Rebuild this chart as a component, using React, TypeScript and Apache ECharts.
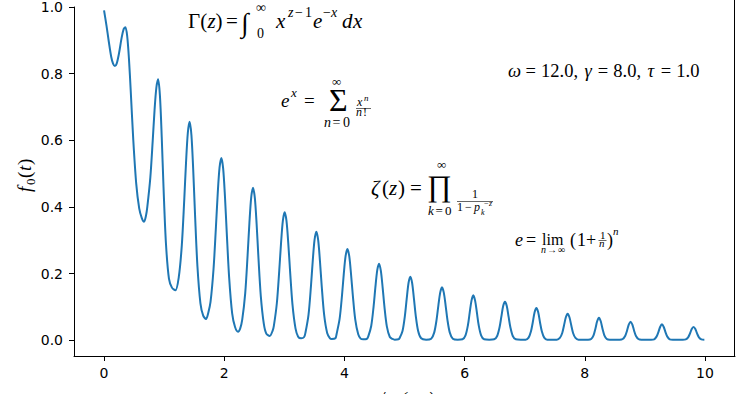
import React, { useEffect, useRef } from "react";
import * as echarts from "echarts";

// ---- data ----
const tValues: number[] = [
  0.0, 0.04, 0.08, 0.12, 0.15, 0.18, 0.21, 0.25, 0.29, 0.325, 0.355,
  0.385, 0.415, 0.445, 0.485, 0.535, 0.585, 0.63, 0.666, 0.7, 0.72, 0.77, 0.81, 0.84, 0.87, 0.9,
  0.93, 0.96, 0.99, 1.03, 1.08, 1.13, 1.187, 1.244, 1.294, 1.334, 1.364, 1.394, 1.424,
  1.454, 1.484, 1.514, 1.554, 1.604, 1.65, 1.697, 1.735, 1.772, 1.822, 1.862, 1.892, 1.922, 1.952,
  1.982, 2.012, 2.042, 2.082, 2.132, 2.18, 2.23, 2.265, 2.299, 2.349, 2.389, 2.419, 2.449, 2.479,
  2.509, 2.539, 2.569, 2.609, 2.659, 2.7, 2.757, 2.806, 2.826, 2.876, 2.916, 2.946, 2.976, 3.006,
  3.036, 3.066, 3.096, 3.136, 3.186, 3.23, 3.28, 3.33, 3.353, 3.403, 3.443, 3.473, 3.503, 3.533,
  3.563, 3.593, 3.623, 3.663, 3.713, 3.76, 3.79, 3.85, 3.87, 3.92, 3.96, 3.99, 4.02, 4.05,
  4.08, 4.11, 4.14, 4.18, 4.23, 4.27, 4.313, 4.37, 4.396, 4.446, 4.486, 4.516, 4.546, 4.576,
  4.606, 4.636, 4.666, 4.706, 4.756, 4.8, 4.837, 4.9, 4.917, 4.967, 5.007, 5.037, 5.067, 5.097,
  5.127, 5.157, 5.187, 5.227, 5.277, 5.36, 5.444, 5.494, 5.534, 5.564, 5.594, 5.624,
  5.654, 5.684, 5.714, 5.754, 5.804, 5.885, 5.965, 6.015, 6.055, 6.085, 6.115, 6.145,
  6.175, 6.205, 6.235, 6.275, 6.325, 6.41, 6.492, 6.542, 6.582, 6.612, 6.642, 6.672,
  6.702, 6.732, 6.762, 6.802, 6.852, 6.935, 7.015, 7.065, 7.105, 7.135, 7.165, 7.195,
  7.225, 7.255, 7.285, 7.325, 7.375, 7.455, 7.535, 7.585, 7.625, 7.655, 7.685, 7.715,
  7.745, 7.775, 7.805, 7.845, 7.895, 7.975, 8.056, 8.106, 8.146, 8.176, 8.206, 8.236,
  8.266, 8.296, 8.326, 8.366, 8.416, 8.5, 8.582, 8.632, 8.672, 8.702, 8.732, 8.762,
  8.792, 8.822, 8.852, 8.892, 8.942, 9.02, 9.104, 9.154, 9.194, 9.224, 9.254, 9.284,
  9.314, 9.344, 9.374, 9.414, 9.464, 9.545, 9.63, 9.68, 9.72, 9.75, 9.78, 9.81,
  9.84, 9.87, 9.9, 9.94, 9.99, 10.0,
];

const fValues: number[] = [
  0.99, 0.945, 0.895, 0.85, 0.83, 0.823, 0.83, 0.862, 0.905, 0.933, 0.939,
  0.913, 0.843, 0.745, 0.606, 0.471, 0.396, 0.366, 0.356, 0.376, 0.4, 0.488, 0.599, 0.689, 0.757, 0.783,
  0.734, 0.61, 0.458, 0.291, 0.185, 0.158, 0.15, 0.19, 0.285, 0.419, 0.532, 0.622, 0.656,
  0.616, 0.511, 0.378, 0.222, 0.111, 0.074, 0.064, 0.083, 0.115, 0.214, 0.34, 0.441, 0.518, 0.547,
  0.516, 0.432, 0.323, 0.188, 0.081, 0.04, 0.026, 0.035, 0.061, 0.141, 0.255, 0.352, 0.429, 0.458,
  0.428, 0.349, 0.249, 0.132, 0.049, 0.02, 0.013, 0.029, 0.043, 0.112, 0.21, 0.293, 0.359, 0.384,
  0.358, 0.291, 0.207, 0.107, 0.036, 0.011, 0.006, 0.01, 0.024, 0.077, 0.162, 0.238, 0.301, 0.326,
  0.301, 0.238, 0.161, 0.076, 0.022, 0.006, 0.004, 0.006, 0.019, 0.064, 0.135, 0.2, 0.253, 0.274,
  0.253, 0.199, 0.135, 0.063, 0.018, 0.005, 0.003, 0.004, 0.011, 0.043, 0.102, 0.16, 0.21, 0.23,
  0.209, 0.159, 0.101, 0.042, 0.01, 0.004, 0.002, 0.003, 0.006, 0.028, 0.074, 0.125, 0.172, 0.191,
  0.172, 0.125, 0.074, 0.028, 0.006, 0.002, 0.005, 0.023, 0.062, 0.105, 0.143, 0.159,
  0.143, 0.105, 0.062, 0.023, 0.005, 0.002, 0.003, 0.015, 0.045, 0.083, 0.119, 0.135,
  0.119, 0.083, 0.045, 0.015, 0.003, 0.002, 0.003, 0.013, 0.039, 0.071, 0.103, 0.116,
  0.103, 0.071, 0.039, 0.013, 0.003, 0.002, 0.002, 0.008, 0.027, 0.054, 0.084, 0.097,
  0.084, 0.054, 0.027, 0.008, 0.002, 0.002, 0.002, 0.007, 0.022, 0.045, 0.069, 0.08,
  0.069, 0.045, 0.022, 0.007, 0.002, 0.002, 0.002, 0.004, 0.015, 0.034, 0.057, 0.068,
  0.057, 0.034, 0.015, 0.004, 0.002, 0.002, 0.002, 0.004, 0.013, 0.028, 0.047, 0.056,
  0.047, 0.028, 0.013, 0.004, 0.002, 0.002, 0.002, 0.003, 0.011, 0.024, 0.04, 0.048,
  0.04, 0.024, 0.011, 0.003, 0.002, 0.002, 0.002, 0.003, 0.009, 0.02, 0.034, 0.04,
  0.034, 0.02, 0.009, 0.003, 0.002, 0.002,
];

const xTickValues = [0, 2, 4, 6, 8, 10];
const yTickValues = [0.0, 0.2, 0.4, 0.6, 0.8, 1.0];
const xRange = [-0.5, 10.5];
const yRange = [-0.0471, 1.0];

// ---- styling helpers ----
const SERIF = "Liberation Serif, DejaVu Serif, serif";
const SANS = "DejaVu Sans, sans-serif";

type Piece = [string, number, number, number, boolean];

function piece(p: Piece): any {
  const [text, x, bl, size, italic] = p;
  return {
    type: "text",
    x,
    y: bl - 0.34 * size,
    silent: true,
    style: {
      text,
      fontFamily: SERIF,
      fontSize: size,
      fontStyle: italic ? "italic" : "normal",
      fill: "#000",
      align: "left",
      verticalAlign: "middle",
    },
  };
}

function seg(x1: number, y1: number, x2: number, y2: number, w: number): any {
  return {
    type: "line",
    silent: true,
    z: 50,
    shape: { x1, y1, x2, y2 },
    style: { stroke: "#000", lineWidth: w },
  };
}

// Γ(z) = ∫_0^∞ x^{z−1} e^{−x} dx
const gammaPieces: Piece[] = [
  ["Γ(", 188, 28, 21, false],
  ["z", 207.5, 28, 21, true],
  [")", 215.5, 28, 21, false],
  ["=", 226, 28, 21, false],
  ["∫", 241, 32, 27, true],
  ["∞", 256, 12, 14, false],
  ["0", 257, 38, 14, false],
  ["x", 276, 28, 21, true],
  ["z", 288, 17, 14, true],
  ["−", 295, 17, 14, false],
  ["1", 305, 17, 14, false],
  ["e", 313, 28, 21, true],
  ["−", 323, 17, 14, false],
  ["x", 331, 17, 14, true],
  ["d", 342, 28, 21, true],
  ["x", 353, 28, 21, true],
];

// e^x = Σ_{n=0}^∞ x^n / n!
const expPieces: Piece[] = [
  ["e", 281, 107, 19, true],
  ["x", 291, 97, 13, true],
  ["=", 304, 107, 19, false],
  ["Σ", 329, 111, 32, false],
  ["∞", 332, 86, 13, false],
  ["n", 324, 127, 14, true],
  ["=", 332.5, 127, 14, false],
  ["0", 343, 127, 14, false],
  ["x", 357, 106, 12, true],
  ["n", 364, 101, 9, true],
  ["n", 356, 116, 12, true],
  ["!", 363, 116, 12, false],
];

// ζ(z) = Π_{k=0}^∞ 1/(1 − p_k^{−z})
const zetaPieces: Piece[] = [
  ["ζ", 371, 195, 21, true],
  ["(", 382, 195, 21, false],
  ["z", 389, 195, 21, true],
  [")", 398, 195, 21, false],
  ["=", 410, 195, 21, false],
  ["∏", 427, 196, 30, false],
  ["∞", 437, 169, 13, false],
  ["k", 428, 215, 13, true],
  ["=", 435.5, 215, 13, false],
  ["0", 445, 215, 13, false],
  ["1", 472, 198, 12, false],
  ["1", 457, 211, 12, false],
  ["−", 465, 211, 12, false],
  ["p", 474, 211, 12, true],
  ["k", 481, 215, 8, true],
  ["−", 484, 206, 8, false],
  ["z", 489, 206, 8, true],
];

// e = lim_{n→∞} (1 + 1/n)^n
const limPieces: Piece[] = [
  ["e", 515, 246, 18, true],
  ["=", 526, 246, 18, false],
  ["lim", 542, 245, 16, false],
  ["n", 541, 253, 10, true],
  ["→", 547, 253, 10, false],
  ["∞", 558, 253, 10, false],
  ["(", 570, 246, 18, false],
  ["1", 577, 246, 18, false],
  ["+", 586, 246, 18, false],
  ["1", 600, 239, 11, false],
  ["n", 599, 247, 11, true],
  [")", 607, 246, 18, false],
  ["n", 613, 235, 11, true],
];

// ω = 12.0, γ = 8.0, τ = 1.0
const paramPieces: Piece[] = [
  ["ω", 508, 77, 18.5, true],
  ["=", 525.5, 77, 18.5, false],
  ["12.0,", 541, 77, 18.5, false],
  ["γ", 584.5, 77, 18.5, true],
  ["=", 597.8, 77, 18.5, false],
  ["8.0,", 613.3, 77, 18.5, false],
  ["τ", 647.5, 77, 18.5, true],
  ["=", 660.8, 77, 18.5, false],
  ["1.0", 676.3, 77, 18.5, false],
];

export default function App() {
  const ref = useRef<HTMLDivElement>(null);

  useEffect(() => {
    if (!ref.current) return;
    const chart = echarts.init(ref.current, undefined, { renderer: "svg" });
    const data = tValues.map((t, i) => [t, fValues[i]]);

    const graphics: any[] = [
      // right spine (the top spine lies above the picture)
      seg(734.5, 0, 734.5, 356.5, 1),
      ...gammaPieces.map(piece),
      ...expPieces.map(piece),
      seg(356, 108.5, 371, 108.5, 0.6),
      ...zetaPieces.map(piece),
      seg(457, 201.5, 493, 201.5, 0.6),
      ...limPieces.map(piece),
      seg(598.5, 240.5, 606.5, 240.5, 0.6),
      ...paramPieces.map(piece),
      // y label  f_0(t)
      {
        type: "group",
        x: 31,
        y: 192,
        rotation: Math.PI / 2,
        children: [
          piece(["f", 0, 0, 19, true]),
          piece(["0", 7, 4, 13, false]),
          piece(["(", 14, 0, 19, false]),
          piece(["t", 21, 0, 19, true]),
          piece([")", 27, 0, 19, false]),
        ],
      },
      // x label (cut off at the bottom)
      {
        type: "text",
        x: 404,
        y: 405 - 0.34 * 19,
        silent: true,
        style: {
          text: "t/τ  (ms)",
          fontFamily: SERIF,
          fontSize: 19,
          fontStyle: "italic",
          fill: "#000",
          align: "center",
          verticalAlign: "middle",
        },
      },
    ];

    chart.setOption({
      animation: false,
      grid: { left: 74, right: 15, top: 0, bottom: 38, containLabel: false },
      xAxis: {
        type: "value",
        min: xRange[0],
        max: xRange[1],
        axisLine: { show: true, onZero: false, lineStyle: { color: "#000", width: 1 } },
        axisTick: {
          show: true,
          length: 5,
          customValues: xTickValues,
          lineStyle: { color: "#000", width: 1 },
        },
        axisLabel: {
          margin: 10,
          color: "#000",
          fontFamily: SANS,
          fontSize: 14,
          customValues: xTickValues,
          formatter: (v: number) => String(v),
        },
        splitLine: { show: false },
      },
      yAxis: {
        type: "value",
        min: yRange[0],
        max: yRange[1],
        axisLine: { show: true, onZero: false, lineStyle: { color: "#000", width: 1 } },
        axisTick: {
          show: true,
          length: 5,
          customValues: yTickValues,
          lineStyle: { color: "#000", width: 1 },
        },
        axisLabel: {
          margin: 11,
          color: "#000",
          fontFamily: SANS,
          fontSize: 14,
          customValues: yTickValues,
          formatter: (v: number) => v.toFixed(1),
        },
        splitLine: { show: false },
      },
      series: [
        {
          type: "line",
          data,
          showSymbol: false,
          smooth: 0.3,
          lineStyle: { color: "#1f77b4", width: 2 },
        },
      ],
      graphic: graphics,
    });

    return () => chart.dispose();
  }, []);

  return (
    <div
      ref={ref}
      style={{ position: "fixed", left: 0, top: 0, width: 750, height: 394, background: "#fff" }}
    />
  );
}
